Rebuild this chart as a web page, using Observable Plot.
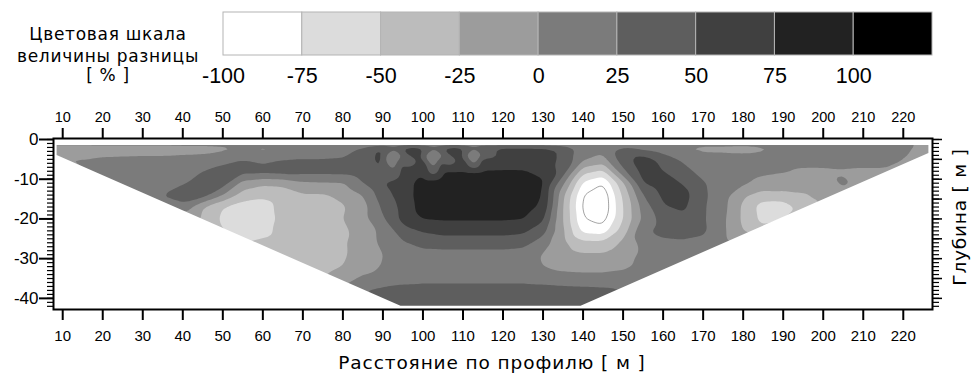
<!DOCTYPE html>
<html><head><meta charset="utf-8">
<script src="https://cdn.jsdelivr.net/npm/d3@7"></script>
<script src="https://cdn.jsdelivr.net/npm/@observablehq/plot@0.6"></script>
<style>
body{margin:0;background:#fff;}
#wrap{position:relative;width:971px;height:376px;overflow:hidden;}
#wrap svg{display:block;}
#overlay{position:absolute;left:0;top:0;pointer-events:none;}
</style></head><body><div id="wrap"></div>
<script>
// ---- colour classes (difference, %) ----
const legendLevels = [-100, -75, -50, -25, 0, 25, 50, 75, 100];
const classBounds = [-75, -50, -25, 0, 25, 50, 75, 100];
const shades = ["#ffffff", "#dcdcdc", "#bcbcbc", "#9c9c9c", "#7b7b7b", "#5e5e5e", "#404040", "#222222", "#000000"];

// ---- axis ticks ----
const xTicks = [10, 20, 30, 40, 50, 60, 70, 80, 90, 100, 110, 120, 130, 140, 150, 160, 170, 180, 190, 200, 210, 220];
const yTicks = [0, -10, -20, -30, -40];

// ---- section outline (distance m, depth m) ----
const outlineX = [7.7, 8.6, 8.6, 94.5, 139.5, 226.4, 226.4, 227.3];
const outlineY = [0.25, 0.25, -4, -42, -42, -3.5, 0.25, 0.25];
const topEdge = -1.5;

// ---- difference values read from the section: columns (m) x rows (depth m) ----
const xCols = [10,15,20,25,30,35,40,45,50,55,60,65,70,75,80,85,90,95,100,105,110,115,120,125,130,135,140,145,150,155,160,165,170,175,180,185,190,195,200,205,210,215,220,225];
const depths = [-2, -5, -8, -11, -14, -17, -20, -23, -26, -29, -32, -35, -38, -41];
const _ = null;
const r02 = [-12,-12,-12,-12,-12,-12,-10,-10,-8,-8, -8,-8,-8,-5,0,30,55,62,60,60, 60,60,62,62,60,45,15,10,30,15, 5,-5,-8,-8,-10,-5,8,10,10,10, 10,8,5,-8];
const r05 = [-2,0,3,4,5,5,6,8,15,25, 18,25,28,28,30,40,58,62,62,62, 62,62,65,65,62,45,5,-8,40,62, 42,20,12,10,10,10,12,12,12,12, 12,12,5,_];
const r08 = [_,8,10,12,12,12,15,25,35,35, 35,38,35,35,35,40,50,62,72,76, 76,76,76,76,70,40,-40,-55,20,58, 50,35,15,12,10,5,2,-5,-5,-3, -5,-5,_,_];
const r11 = [_,_,_,12,12,18,22,35,38,-10, -20,-18,-5,-3,-2,25,50,65,85,90, 90,90,90,88,78,5,-80,-100,-30,50, 65,48,28,12,5,-8,-12,-12,-12,5, -8,_,_,_];
const r14 = [_,_,_,_,12,25,40,38,0,-35, -45,-40,-28,-28,-18,0,40,62,88,90, 90,90,90,88,75,-20,-100,-118,-45,25, 55,60,30,10,-20,-35,-32,-28,-15,-10, _,_,_,_];
const r17 = [_,_,_,_,_,25,15,-25,-50,-62, -60,-42,-40,-38,-28,-10,30,58,86,88, 88,88,88,86,70,-25,-105,-120,-50,10, 48,55,28,8,-30,-62,-65,-40,_,_, _,_,_,_];
const r20 = [_,_,_,_,_,_,_,-30,-55,-68, -65,-42,-42,-40,-25,-8,22,58,76,78, 78,78,78,76,55,-25,-98,-110,-50,5, 35,42,28,5,-30,-58,-55,_,_,_, _,_,_,_];
const r23 = [_,_,_,_,_,_,_,_,-50,-62, -58,-42,-40,-40,-32,-10,5,40,52,58, 58,58,58,55,35,-20,-82,-88,-38,20, 35,38,30,5,-25,-40,_,_,_,_, _,_,_,_];
const r26 = [_,_,_,_,_,_,_,_,_,-50, -45,-40,-40,-38,-28,-12,5,22,35,38, 38,38,38,35,12,-18,-42,-42,-20,8, 18,20,18,5,0,_,_,_,_,_, _,_,_,_];
const r29 = [_,_,_,_,_,_,_,_,_,_, _,-40,-38,-35,-28,-15,0,12,15,15, 15,15,15,12,-2,-15,-22,-22,-10,5, 12,12,12,_,_,_,_,_,_,_, _,_,_,_];
const r32 = [_,_,_,_,_,_,_,_,_,_, _,_,-35,-33,-25,-12,2,10,12,12, 12,12,12,10,0,-8,-10,-10,-5,5, 10,12,_,_,_,_,_,_,_,_, _,_,_,_];
const r35 = [_,_,_,_,_,_,_,_,_,_, _,_,_,-25,-12,5,12,15,18,18, 18,18,18,18,15,12,10,10,12,15, 15,_,_,_,_,_,_,_,_,_, _,_,_,_];
const r38 = [_,_,_,_,_,_,_,_,_,_, _,_,_,_,_,25,30,35,35,35, 35,35,35,35,35,33,32,30,25,_, _,_,_,_,_,_,_,_,_,_, _,_,_,_];
const r41 = [_,_,_,_,_,_,_,_,_,_, _,_,_,_,_,_,35,40,40,40, 40,40,40,40,40,40,38,35,_,_, _,_,_,_,_,_,_,_,_,_, _,_,_,_];
const rows = [r02, r05, r08, r11, r14, r17, r20, r23, r26, r29, r32, r35, r38, r41];

// small features under the top: three light lenses (centre + rim), two dark spots, white-anomaly core
const extraX = [92.8, 90.4, 95.2, 92.8, 92.8,  102.8, 100.3, 105.3, 102.8, 102.8,  113, 110.7, 115.3, 113, 113,  97.6, 107.8, 144];
const extraY = [-4.8, -4.8, -4.8, -2.6, -7.2,  -4.6, -4.6, -4.6, -2.4, -7.0,  -4.2, -4.2, -4.2, -2.2, -6.4,  -2.6, -2.6, -16];
const extraV = [-10, 20, 20, 20, 20,  -10, 20, 20, 20, 20,  -5, 20, 20, 20, 20,  85, 85, -125];

const points = [];
rows.forEach((row, j) => row.forEach((v, i) => { if (v != null) points.push({x: xCols[i], y: depths[j], v}); }));
extraX.forEach((x, i) => points.push({x, y: extraY[i], v: extraV[i]}));

const maskPts = outlineX.map((x, i) => ({x, y: outlineY[i]}));
const topPts = [{x: outlineX[0], y1: topEdge, y2: outlineY[0]}, {x: outlineX[outlineX.length - 1], y1: topEdge, y2: outlineY[0]}];

const colorScale = {type: "threshold", domain: classBounds, range: shades};
const tickFont = "Liberation Sans, Arial, sans-serif";

const legend = Plot.plot({
  width: 971, height: 100, marginLeft: 223, marginRight: 39, marginTop: 12, marginBottom: 45,
  x: {domain: [-100, 125], label: null},
  color: colorScale,
  style: {fontFamily: tickFont, background: "transparent", color: "black"},
  marks: [
    Plot.rectX(legendLevels, {x1: d => d, x2: d => d + 25, fill: d => d + 12.5, stroke: "#b4b4b4", strokeWidth: 1}),
    Plot.axisX({anchor: "bottom", ticks: legendLevels, tickSize: 0, tickPadding: 12, fontSize: 21.5, tickFormat: d => String(d)})
  ]
});

const main = Plot.plot({
  width: 971, height: 276, marginTop: 38, marginBottom: 67, marginLeft: 53, marginRight: 39,
  x: {domain: [7.7, 227.3], label: null},
  y: {domain: [-42.8, 0.25], label: null},
  color: colorScale,
  style: {fontFamily: tickFont, background: "transparent", color: "black"},
  marks: [
    Plot.contour(points, {x: "x", y: "y", fill: "v", thresholds: legendLevels, interpolate: "barycentric", blur: 1, stroke: "none"}),
    Plot.contour(points, {x: "x", y: "y", value: d => -d.v, thresholds: [100], interpolate: "barycentric", blur: 1, fill: "none", stroke: "#8c8c8c", strokeWidth: 0.8}),
    Plot.areaY(maskPts, {x: "x", y1: -42.8, y2: "y", fill: "white"}),
    Plot.areaY(topPts, {x: "x", y1: "y1", y2: "y2", fill: "white"}),
    Plot.frame({stroke: "black", strokeWidth: 2}),
    Plot.axisX({anchor: "bottom", ticks: xTicks, tickSize: 11, tickPadding: 10, fontSize: 15, strokeWidth: 2, tickFormat: d => String(d)}),
    Plot.axisX({anchor: "top", ticks: xTicks, tickSize: 11, tickPadding: 6, fontSize: 14.5, strokeWidth: 2, tickFormat: d => String(d)}),
    Plot.axisY({anchor: "left", ticks: yTicks, tickSize: 14, tickPadding: 1, fontSize: 17, strokeWidth: 2, tickFormat: d => String(d)}),
    Plot.axisY({anchor: "left", ticks: d3.range(0, -43, -1), tickSize: 6, strokeWidth: 1.2, tickFormat: () => ""}),
    Plot.axisY({anchor: "right", ticks: d3.range(0, -43, -1), tickSize: 6, strokeWidth: 1.2, tickFormat: () => ""}),
    Plot.axisY({anchor: "right", ticks: d3.range(0, -43, -5), tickSize: 9, strokeWidth: 1.5, tickFormat: () => ""})
  ]
});

const wrap = document.getElementById("wrap");
wrap.appendChild(legend);
wrap.appendChild(main);

const ns = "http://www.w3.org/2000/svg";
const ov = document.createElementNS(ns, "svg");
ov.setAttribute("id", "overlay");
ov.setAttribute("width", 971); ov.setAttribute("height", 376);
ov.setAttribute("font-family", "DejaVu Sans, sans-serif");
function addText(str, x, y, size, spacing, extra) {
  const t = document.createElementNS(ns, "text");
  t.textContent = str;
  t.setAttribute("x", x); t.setAttribute("y", y);
  t.setAttribute("font-size", size);
  t.setAttribute("letter-spacing", spacing);
  t.setAttribute("text-anchor", "middle");
  t.setAttribute("fill", "black");
  if (extra) t.setAttribute("transform", extra);
  ov.appendChild(t);
}
addText("Цветовая шкала", 108, 40, 17, 0.7);
addText("величины разницы", 108, 61.5, 17, 0.7);
addText("[ % ]", 108, 81, 17, 0.7);
addText("Расстояние по профилю [ м ]", 492, 369, 18.5, 0.9);
addText("Глубина [ м ]", 0, 0, 18.5, 0.8, "translate(966,217) rotate(-90)");
wrap.appendChild(ov);
</script></body></html>
